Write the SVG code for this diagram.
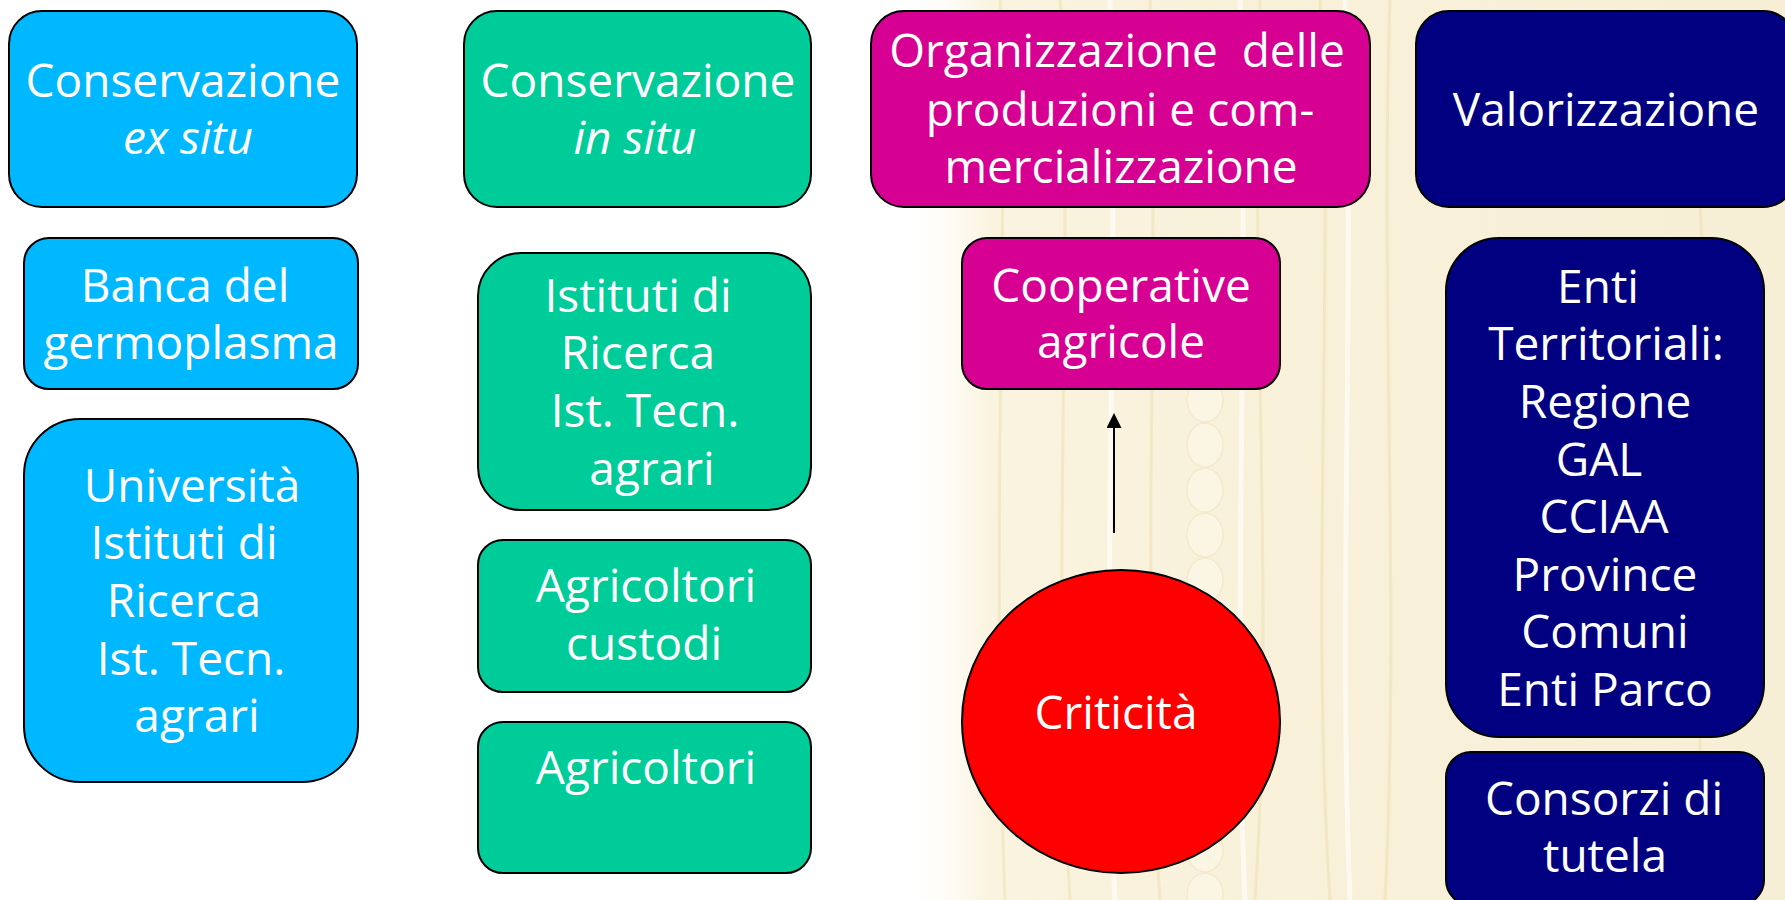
<svg xmlns="http://www.w3.org/2000/svg" width="1785" height="900" viewBox="0 0 1785 900">
<defs>
<style>
.box{stroke:#000;stroke-width:2}
.blue{fill:#00B8FF}
.green{fill:#00CC99}
.mag{fill:#D60093}
.navy{fill:#000080}
.red{fill:#FF0000}
text{font-family:"Open Sans","DejaVu Sans",sans-serif;font-size:46px;fill:#fff;text-anchor:middle}
.it{font-style:italic}
.conn{stroke:#000;stroke-width:2;fill:none}
.streak{fill:none;stroke:#ecd9a0;stroke-width:3;opacity:0.4}
.streakw{fill:none;stroke:#ffffff;stroke-width:5;opacity:0.6}
.kern{fill:#fffaf0;stroke:#f0e2b8;stroke-width:1.5;opacity:0.45}
</style>
<linearGradient id="bgGrad" x1="0" y1="0" x2="1" y2="0">
<stop offset="0" stop-color="#ffffff" stop-opacity="0"/>
<stop offset="0.1" stop-color="#faf3df" stop-opacity="1"/>
<stop offset="0.5" stop-color="#f8f0d8"/>
<stop offset="1" stop-color="#f7eed6"/>
</linearGradient>
<marker id="arrow" viewBox="0 0 16 15" refX="0" refY="7.5" markerWidth="16" markerHeight="15" markerUnits="userSpaceOnUse" orient="auto">
<path d="M0,0 L15,7.5 L0,15 z" fill="#000"/>
</marker>
</defs>
<rect x="0" y="0" width="1785" height="900" fill="#fff"/>
<g id="background">
<rect x="900" y="0" width="885" height="900" fill="url(#bgGrad)"/>
<path class="streak" d="M1000,0 C1010,200 990,500 1005,900"/>
<path class="streak" d="M1060,0 C1075,250 1050,550 1070,900"/>
<path class="streak" d="M1150,0 C1160,300 1140,600 1160,900"/>
<path class="streak" d="M1260,0 C1250,300 1275,600 1255,900"/>
<path class="streak" d="M1320,0 C1335,250 1310,600 1330,900"/>
<path class="streak" d="M1390,0 C1380,300 1400,600 1385,900"/>
<path class="streak" d="M1700,200 C1710,400 1690,600 1705,900"/>
<path class="streakw" d="M1240,0 C1250,300 1232,600 1245,900"/>
<path class="streakw" d="M1345,0 C1355,300 1338,600 1350,900"/>
<path class="streakw" d="M1110,0 C1120,300 1100,600 1115,900"/>
<g>
<ellipse class="kern" cx="1205" cy="400" rx="18" ry="22"/>
<ellipse class="kern" cx="1205" cy="445" rx="18" ry="22"/>
<ellipse class="kern" cx="1205" cy="490" rx="18" ry="22"/>
<ellipse class="kern" cx="1205" cy="535" rx="18" ry="22"/>
<ellipse class="kern" cx="1205" cy="580" rx="18" ry="22"/>
<ellipse class="kern" cx="1205" cy="625" rx="18" ry="22"/>
<ellipse class="kern" cx="1205" cy="670" rx="18" ry="22"/>
<ellipse class="kern" cx="1205" cy="715" rx="18" ry="22"/>
<ellipse class="kern" cx="1205" cy="760" rx="18" ry="22"/>
<ellipse class="kern" cx="1205" cy="805" rx="18" ry="22"/>
<ellipse class="kern" cx="1205" cy="850" rx="18" ry="22"/>
<ellipse class="kern" cx="1205" cy="895" rx="18" ry="22"/>
</g>
</g>
<g id="connectors">
<line class="conn" x1="1114" y1="533" x2="1114" y2="428" marker-end="url(#arrow)"/>
</g>
<g id="cons-ex-situ">
<rect class="box blue" x="9" y="11" width="348" height="196" rx="33"/>
<text x="183" y="97">Conservazione</text>
<text class="it" x="188" y="154">ex situ</text>
</g>
<g id="banca-germoplasma">
<rect class="box blue" x="24" y="238" width="334" height="151" rx="25"/>
<text x="185" y="302">Banca del</text>
<text x="191" y="359">germoplasma</text>
</g>
<g id="universita">
<rect class="box blue" x="24" y="419" width="334" height="363" rx="56"/>
<text x="192" y="502">Università</text>
<text x="184" y="559">Istituti di</text>
<text x="184" y="617">Ricerca</text>
<text x="191" y="675">Ist. Tecn.</text>
<text x="197" y="732">agrari</text>
</g>
<g id="cons-in-situ">
<rect class="box green" x="464" y="11" width="347" height="196" rx="33"/>
<text x="638" y="97">Conservazione</text>
<text class="it" x="635" y="154">in situ</text>
</g>
<g id="istituti-ricerca">
<rect class="box green" x="478" y="253" width="333" height="257" rx="43"/>
<text x="638" y="312">Istituti di</text>
<text x="638" y="369">Ricerca</text>
<text x="645" y="427">Ist. Tecn.</text>
<text x="652" y="485">agrari</text>
</g>
<g id="agricoltori-custodi">
<rect class="box green" x="478" y="540" width="333" height="152" rx="25"/>
<text x="646" y="602">Agricoltori</text>
<text x="644" y="660">custodi</text>
</g>
<g id="agricoltori">
<rect class="box green" x="478" y="722" width="333" height="151" rx="25"/>
<text x="646" y="784">Agricoltori</text>
</g>
<g id="organizzazione">
<rect class="box mag" x="871" y="11" width="499" height="196" rx="33"/>
<text x="1117" y="67" xml:space="preserve">Organizzazione  delle</text>
<text x="1120" y="126">produzioni e com-</text>
<text x="1121" y="183">mercializzazione</text>
</g>
<g id="cooperative">
<rect class="box mag" x="962" y="238" width="318" height="151" rx="25"/>
<text x="1121" y="302">Cooperative</text>
<text x="1121" y="358">agricole</text>
</g>
<g id="criticita">
<ellipse class="box red" cx="1121" cy="721.5" rx="159" ry="151.5"/>
<text x="1116" y="729">Criticità</text>
</g>
<g id="valorizzazione">
<rect class="box navy" x="1416" y="11" width="380" height="196" rx="33"/>
<text x="1606" y="126">Valorizzazione</text>
</g>
<g id="enti-territoriali">
<rect class="box navy" x="1446" y="238" width="318" height="499" rx="53"/>
<text x="1598" y="303">Enti</text>
<text x="1606" y="360">Territoriali:</text>
<text x="1605" y="418">Regione</text>
<text x="1599" y="476">GAL</text>
<text x="1604" y="533">CCIAA</text>
<text x="1605" y="591">Province</text>
<text x="1605" y="648">Comuni</text>
<text x="1605" y="706">Enti Parco</text>
</g>
<g id="consorzi">
<rect class="box navy" x="1446" y="752" width="318" height="153" rx="25"/>
<text x="1604" y="815">Consorzi di</text>
<text x="1605" y="872">tutela</text>
</g>
</svg>
